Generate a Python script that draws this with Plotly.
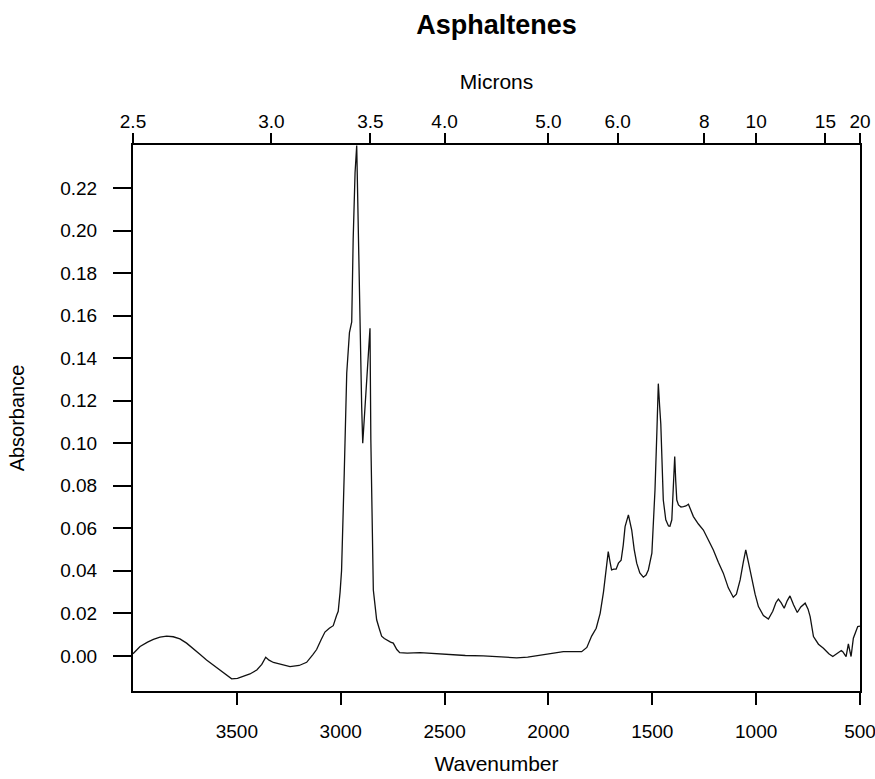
import plotly.graph_objects as go

# Spectrum data (wavenumber in cm^-1, absorbance)
wavenumber = [4000, 3966, 3930, 3902, 3870, 3838, 3806, 3774, 3742, 3710, 3678, 3646, 3613, 3581,
              3550, 3525, 3497, 3469, 3437, 3404, 3380, 3361, 3345, 3324, 3285, 3244, 3200, 3164,
              3135, 3116, 3095, 3076, 3055, 3036, 3020, 3012, 3003, 2996, 2983, 2971, 2958, 2947,
              2940, 2931, 2923, 2915, 2907, 2899, 2894, 2885, 2875, 2866, 2859, 2855, 2850, 2843,
              2835, 2827, 2815, 2803, 2790, 2779, 2760, 2747, 2730, 2716, 2680, 2618, 2550, 2474,
              2400, 2314, 2230, 2153, 2100, 2041, 1980, 1928, 1880, 1840, 1815, 1792, 1770, 1751,
              1735, 1720, 1712, 1703, 1696, 1685, 1674, 1663, 1650, 1640, 1631, 1615, 1607, 1599,
              1587, 1575, 1560, 1543, 1530, 1519, 1502, 1495, 1487, 1478, 1471, 1465, 1459, 1447,
              1435, 1422, 1415, 1406, 1398, 1392, 1387, 1382, 1374, 1362, 1350, 1338, 1326, 1314,
              1302, 1278, 1254, 1230, 1206, 1182, 1158, 1134, 1110, 1095, 1077, 1062, 1050, 1035,
              1021, 1005, 989, 965, 941, 920, 905, 893, 880, 865, 850, 837, 820, 802, 785, 764,
              750, 740, 724, 700, 676, 650, 631, 610, 590, 583, 567, 556, 543, 532, 520, 511, 500]
absorbance = [0.0010, 0.0044, 0.0065, 0.0078, 0.0088, 0.0093, 0.0090, 0.0080, 0.0060, 0.0036, 0.0008,
              -0.0019, -0.0043, -0.0066, -0.0090, -0.0108, -0.0106, -0.0097, -0.0085, -0.0066,
              -0.0040, -0.0006, -0.0020, -0.0031, -0.0042, -0.0050, -0.0045, -0.0030, 0.0005,
              0.0030, 0.0075, 0.0112, 0.0130, 0.0142, 0.0190, 0.0210, 0.0300, 0.0400, 0.0860,
              0.1330, 0.1520, 0.1570, 0.1960, 0.2270, 0.2400, 0.1960, 0.1490, 0.1170, 0.1000,
              0.1150, 0.1330, 0.1450, 0.1540, 0.1020, 0.0700, 0.0310, 0.0240, 0.0170, 0.0130,
              0.0093, 0.0082, 0.0075, 0.0065, 0.0060, 0.0030, 0.0015, 0.0013, 0.0015, 0.0010,
              0.0004, 0.0002, 0.0000, -0.0006, -0.0009, -0.0006, 0.0002, 0.0012, 0.0020, 0.0020,
              0.0020, 0.0040, 0.0093, 0.0130, 0.0200, 0.0300, 0.0430, 0.0490, 0.0440, 0.0404,
              0.0408, 0.0408, 0.0436, 0.0450, 0.0520, 0.0608, 0.0663, 0.0630, 0.0592, 0.0500,
              0.0436, 0.0390, 0.0370, 0.0380, 0.0404, 0.0483, 0.0600, 0.0780, 0.1050, 0.1280,
              0.1180, 0.1090, 0.0733, 0.0640, 0.0611, 0.0610, 0.0640, 0.0800, 0.0937, 0.0820,
              0.0733, 0.0710, 0.0700, 0.0702, 0.0705, 0.0713, 0.0680, 0.0655, 0.0620, 0.0592,
              0.0545, 0.0498, 0.0440, 0.0389, 0.0320, 0.0276, 0.0290, 0.0357, 0.0440, 0.0498,
              0.0430, 0.0357, 0.0290, 0.0232, 0.0190, 0.0173, 0.0210, 0.0250, 0.0267, 0.0250,
              0.0224, 0.0260, 0.0282, 0.0240, 0.0204, 0.0230, 0.0248, 0.0220, 0.0185, 0.0091,
              0.0055, 0.0036, 0.0010, -0.0003, 0.0010, 0.0025, 0.0020, -0.0003, 0.0056, -0.0003,
              0.0083, 0.0120, 0.0138, 0.0140]

# Axis ticks
wn_ticks = [3500, 3000, 2500, 2000, 1500, 1000, 500]
micron_labels = ["2.5", "3.0", "3.5", "4.0", "5.0", "6.0", "8", "10", "15", "20"]
micron_values = [2.5, 3.0, 3.5, 4.0, 5.0, 6.0, 8, 10, 15, 20]
abs_ticks = [0.00, 0.02, 0.04, 0.06, 0.08, 0.10, 0.12, 0.14, 0.16, 0.18, 0.20, 0.22]

FONT = "Liberation Sans, Arial, Helvetica, sans-serif"
XR = [4000, 500]
YR = [-0.0165, 0.2402]

fig = go.Figure()
fig.add_trace(go.Scatter(x=wavenumber, y=absorbance, mode="lines",
                         line=dict(color="#111111", width=1.3), showlegend=False,
                         hoverinfo="x+y"))
# empty trace that carries the top (microns) axis
fig.add_trace(go.Scatter(x=[XR[0], XR[1]], y=[None, None], xaxis="x2", mode="lines",
                         showlegend=False, hoverinfo="skip"))

fig.update_layout(
    width=875, height=779,
    margin=dict(l=133, r=15, t=145, b=88, autoexpand=False),
    paper_bgcolor="white", plot_bgcolor="white",
    font=dict(family=FONT, color="black", size=19),
    title=dict(text="<b>Asphaltenes</b>", x=0.5, xref="paper", xanchor="center",
               y=0.969, yref="container", yanchor="middle",
               font=dict(family=FONT, size=27, color="black")),
    xaxis=dict(range=XR, tickmode="array", tickvals=wn_ticks,
               ticktext=[str(v) for v in wn_ticks], automargin=True,
               ticklabeloverflow="allow",
               ticks="outside", ticklen=12, tickwidth=1.5, tickcolor="black",
               ticklabelstandoff=10,
               showline=True, linewidth=2, linecolor="black", mirror=False,
               showgrid=False, zeroline=False,
               title=dict(text="Wavenumber", standoff=16, font=dict(size=21))),
    xaxis2=dict(range=XR, overlaying="x", side="top", tickmode="array",
                tickvals=[10000.0 / m for m in micron_values], ticktext=micron_labels,
                automargin=True, ticklabeloverflow="allow",
                ticks="outside", ticklen=10, tickwidth=1.5, tickcolor="black",
                ticklabelstandoff=-3,
                showline=True, linewidth=2, linecolor="black",
                showgrid=False, zeroline=False,
                title=dict(text="Microns", standoff=16, font=dict(size=21))),
    yaxis=dict(range=YR, tickmode="array", tickvals=abs_ticks,
               ticktext=["%.2f" % v for v in abs_ticks], automargin=True,
               ticks="outside", ticklen=18, tickwidth=1.5, tickcolor="black",
               ticklabelstandoff=12,
               showline=True, linewidth=2, linecolor="black", mirror=True,
               showgrid=False, zeroline=False,
               title=dict(text="Absorbance", standoff=30, font=dict(size=20))),
)

fig.write_html("out.html")
